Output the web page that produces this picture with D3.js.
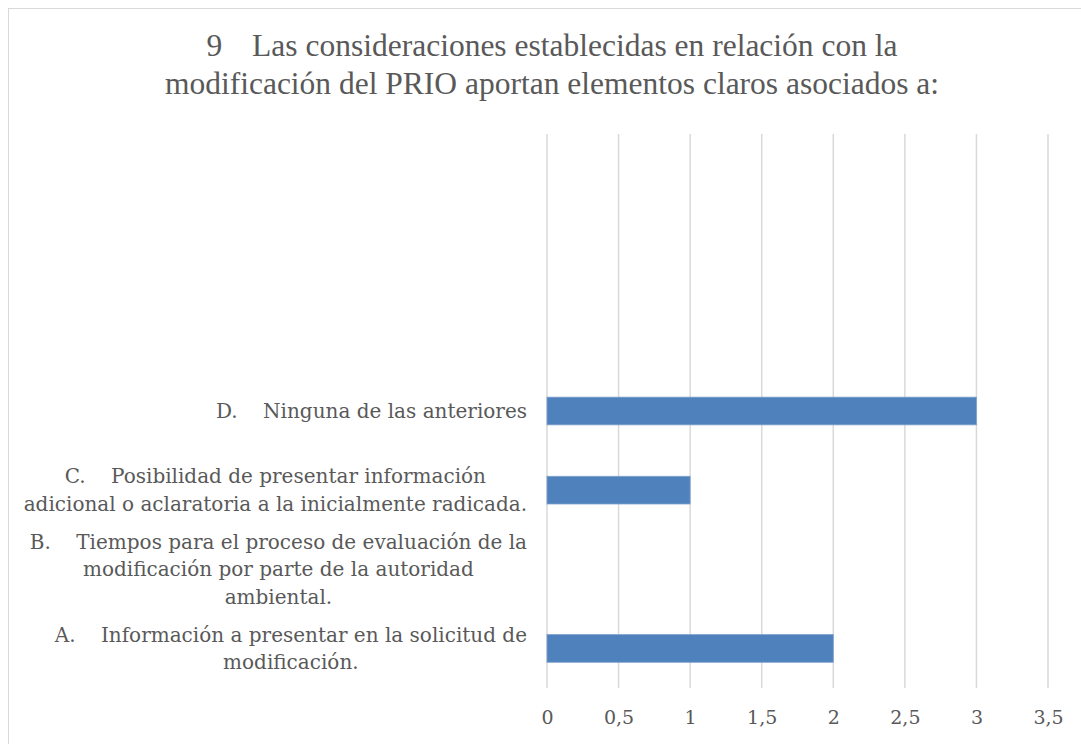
<!DOCTYPE html>
<html>
<head>
<meta charset="utf-8">
<script src="https://cdn.jsdelivr.net/npm/d3@7"></script>
<style>
  body { margin: 0; background: #fff; }
  svg { display: block; }
  text { white-space: pre; }
</style>
</head>
<body>
<svg id="chart" width="1081" height="744"></svg>
<script>
// chart data
const titleLines = ['9   \u2009Las consideraciones establecidas en relación con la', 'modificación del PRIO aportan elementos claros asociados a:'];
// categories from top to bottom, the top three are empty rows in the original sheet
const categoryKeys = ['G', 'F', 'E', 'D', 'C', 'B', 'A'];
const categoryLabels = [
  [],
  [],
  [],
  ['D.    Ninguna de las anteriores'],
  ['C.    Posibilidad de presentar información', 'adicional o aclaratoria a la inicialmente radicada.'],
  ['B.    Tiempos para el proceso de evaluación de la', 'modificación por parte de la autoridad', 'ambiental.'],
  ['A.    Información a presentar en la solicitud de', 'modificación.']
];
const values = [null, null, null, 3, 1, 0, 2];
const tickValues = [0, 0.5, 1, 1.5, 2, 2.5, 3, 3.5];

const svg = d3.select('#chart');
const textColor = '#595959';
const serif = '"DejaVu Serif", serif';

// outer border of the chart area
svg.append('rect')
  .attr('x', 8.5).attr('y', 8.5)
  .attr('width', 1100).attr('height', 760)
  .attr('fill', '#fff')
  .attr('stroke', '#d9d9d9')
  .attr('stroke-width', 1);

// title
svg.append('text')
  .attr('x', 552).attr('y', 56)
  .attr('text-anchor', 'middle')
  .attr('font-family', '"Liberation Serif", "Times New Roman", serif')
  .attr('font-size', 31.5)
  .attr('fill', textColor)
  .selectAll('tspan')
  .data(titleLines)
  .enter().append('tspan')
  .attr('x', 552)
  .attr('dy', (d, i) => i === 0 ? 0 : 38)
  .text(d => d);

// scales
const x = d3.scaleLinear().domain([0, 3.5]).range([547, 1048]);
const y = d3.scaleBand().domain(categoryKeys).range([134, 688]).paddingInner(0.65).paddingOuter(0.325);

// vertical gridlines
svg.append('g')
  .selectAll('line')
  .data(tickValues)
  .enter().append('line')
  .attr('x1', d => x(d)).attr('x2', d => x(d))
  .attr('y1', 134).attr('y2', 688)
  .attr('stroke', '#d9d9d9')
  .attr('stroke-width', 1.5);

// x axis labels
const fmt = d => String(d).replace('.', ',');
const xAxis = d3.axisBottom(x).tickValues(tickValues).tickFormat(fmt).tickSize(0).tickPadding(23);
const xg = svg.append('g').attr('transform', 'translate(0,688)').call(xAxis);
xg.select('.domain').remove();
xg.selectAll('text')
  .attr('font-family', serif)
  .attr('font-size', 19)
  .attr('fill', textColor);

// bars
svg.append('g')
  .selectAll('rect')
  .data(categoryKeys.map((k, i) => ({ key: k, value: values[i] })).filter(d => d.value))
  .enter().append('rect')
  .attr('x', x(0))
  .attr('y', d => y(d.key))
  .attr('width', d => x(d.value) - x(0))
  .attr('height', y.bandwidth())
  .attr('fill', '#4f81bd')
  .attr('stroke', '#7ea1cc')
  .attr('stroke-width', 0.8);

// category labels, lines centered on each other, block right aligned
const labelRight = 527;
const lineHeight = 27.5;
const labelGroups = svg.append('g')
  .selectAll('g')
  .data(categoryKeys.map((k, i) => ({ key: k, lines: categoryLabels[i] })))
  .enter().append('g');

labelGroups.each(function(d) {
  const g = d3.select(this);
  const cy = y(d.key) + y.bandwidth() / 2;
  const n = d.lines.length;
  const texts = g.selectAll('text')
    .data(d.lines)
    .enter().append('text')
    .attr('y', (l, i) => cy + (i - (n - 1) / 2) * lineHeight)
    .attr('dy', '0.35em')
    .attr('text-anchor', 'middle')
    .attr('font-family', serif)
    .attr('font-size', 20)
    .attr('fill', textColor)
    .text(l => l);
  // widest line decides where the block sits
  let maxW = 0;
  texts.each(function() { maxW = Math.max(maxW, this.getComputedTextLength()); });
  texts.attr('x', labelRight - maxW / 2);
});
</script>
</body>
</html>
